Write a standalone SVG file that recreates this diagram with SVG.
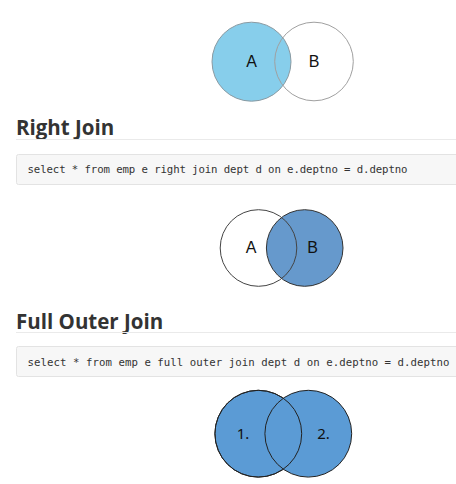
<svg xmlns="http://www.w3.org/2000/svg" width="456" height="484" viewBox="0 0 456 484">
<style>
.h{font-family:"Open Sans","Liberation Sans",sans-serif;font-weight:bold;font-size:20.5px;fill:#333}
.code{font-family:"DejaVu Sans Mono","Liberation Mono",monospace;font-size:10.7px;fill:#333}
.box{fill:#f7f7f7;stroke:#e3e3e3;stroke-width:1}
.rule{stroke:#eaeaea;stroke-width:1}
.lbl{font-family:"Liberation Sans",Arial,sans-serif;font-size:16px;fill:#111;text-anchor:middle}
.num{font-family:"Noto Sans","Liberation Sans",sans-serif;font-size:15px;fill:#111;text-anchor:middle}
</style>
<rect width="456" height="484" fill="#fff"/>
<g id="venn-left">
<circle cx="251.5" cy="61.7" r="39.5" fill="#87ceeb" stroke="#8a9aa2" stroke-width="1"/>
<circle cx="314" cy="61.5" r="39.3" fill="none" stroke="#a0a0a0" stroke-width="1"/>
<text class="lbl" x="251.5" y="67">A</text>
<text class="lbl" x="314" y="67">B</text>
</g>
<g id="right-join">
<text class="h" x="16" y="135">Right Join</text>
<line class="rule" x1="16" y1="139.5" x2="456" y2="139.5"/>
<rect class="box" x="16.5" y="154.5" width="460" height="30" rx="2"/>
<text class="code" x="27.5" y="173" textLength="380" lengthAdjust="spacing">select * from emp e right join dept d on e.deptno = d.deptno</text>
</g>
<g id="venn-right">
<circle cx="304.7" cy="248" r="38.3" fill="#6699cc" stroke="#333" stroke-width="1"/>
<circle cx="258.5" cy="248" r="38.3" fill="none" stroke="#444" stroke-width="1"/>
<text class="lbl" x="251" y="253">A</text>
<text class="lbl" x="312.5" y="253">B</text>
</g>
<g id="full-join">
<text class="h" x="16" y="328.5">Full Outer Join</text>
<line class="rule" x1="16" y1="332.5" x2="456" y2="332.5"/>
<rect class="box" x="16.5" y="346.5" width="460" height="30" rx="2"/>
<text class="code" x="27.5" y="365.5" textLength="422" lengthAdjust="spacing">select * from emp e full outer join dept d on e.deptno = d.deptno</text>
</g>
<g id="venn-full">
<circle cx="258.3" cy="433.7" r="43.4" fill="#5b9bd5" stroke="#222" stroke-width="1"/>
<circle cx="308.3" cy="433.7" r="43.4" fill="#5b9bd5" stroke="#222" stroke-width="1"/>
<circle cx="258.3" cy="433.7" r="43.4" fill="none" stroke="#222" stroke-width="1"/>
<text class="num" x="243" y="439">1.</text>
<text class="num" x="323.5" y="439">2.</text>
</g>
</svg>
